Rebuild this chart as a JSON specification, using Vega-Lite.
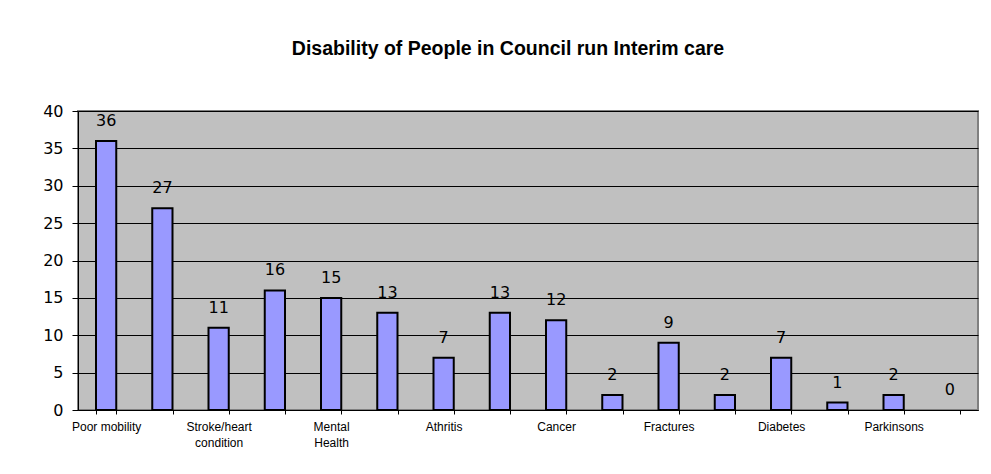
{
  "$schema": "https://vega.github.io/schema/vega-lite/v6.json",
  "width": 900,
  "height": 299,
  "autosize": "none",
  "padding": {"left": 78, "top": 111, "right": 13, "bottom": 64},
  "background": "white",
  "title": {
    "text": "Disability of People in Council run Interim care",
    "font": "Liberation Sans",
    "fontSize": 19.5,
    "fontWeight": "bold",
    "color": "black",
    "anchor": "middle",
    "frame": "group",
    "baseline": "bottom",
    "offset": 25,
    "dx": -20
  },
  "data": {
    "values": [
      {"condition": "Poor mobility", "people": 36},
      {"condition": " ", "people": 27},
      {"condition": "Stroke/heart condition", "people": 11},
      {"condition": "  ", "people": 16},
      {"condition": "Mental Health", "people": 15},
      {"condition": "   ", "people": 13},
      {"condition": "Athritis", "people": 7},
      {"condition": "    ", "people": 13},
      {"condition": "Cancer", "people": 12},
      {"condition": "     ", "people": 2},
      {"condition": "Fractures", "people": 9},
      {"condition": "      ", "people": 2},
      {"condition": "Diabetes", "people": 7},
      {"condition": "       ", "people": 1},
      {"condition": "Parkinsons", "people": 2},
      {"condition": "        ", "people": 0}
    ]
  },
  "encoding": {
    "x": {
      "field": "condition",
      "type": "nominal",
      "sort": null,
      "scale": {"paddingInner": 0.64, "paddingOuter": 0.32},
      "axis": {
        "title": null,
        "labelAngle": 0,
        "labelOverlap": false,
        "labelFont": "Liberation Sans",
        "labelFontSize": 12,
        "labelColor": "black",
        "labelBaseline": "top",
        "labelLineHeight": 16,
        "labelPadding": 7,
        "labelExpr": "indexof(['Stroke/heart condition','Mental Health'], datum.value) >= 0 ? split(datum.value, ' ') : datum.value",
        "tickBand": "extent",
        "tickSize": 4,
        "tickColor": "black",
        "domainColor": "black",
        "domainWidth": 1,
        "grid": false
      }
    },
    "y": {
      "field": "people",
      "type": "quantitative",
      "scale": {"domain": [0, 40], "nice": false},
      "axis": {
        "title": null,
        "values": [0, 5, 10, 15, 20, 25, 30, 35, 40],
        "labelFont": "DejaVu Sans",
        "labelFontSize": 16,
        "labelColor": "black",
        "labelPadding": 9,
        "tickSize": 6,
        "tickColor": "black",
        "domainColor": "black",
        "grid": true,
        "gridColor": "black",
        "gridWidth": 1,
        "gridOpacity": 1
      }
    }
  },
  "layer": [
    {
      "mark": {"type": "bar", "fill": "#9999FF", "stroke": "black", "strokeWidth": 2},
      "encoding": {
        "strokeOpacity": {"condition": {"test": "datum.people == 0", "value": 0}, "value": 1}
      }
    },
    {
      "mark": {"type": "text", "font": "DejaVu Sans", "fontSize": 16, "color": "black", "baseline": "alphabetic", "dy": -15},
      "encoding": {"text": {"field": "people", "type": "quantitative"}}
    }
  ],
  "config": {
    "view": {"fill": "#C0C0C0", "stroke": "#808080", "strokeWidth": 2}
  }
}
